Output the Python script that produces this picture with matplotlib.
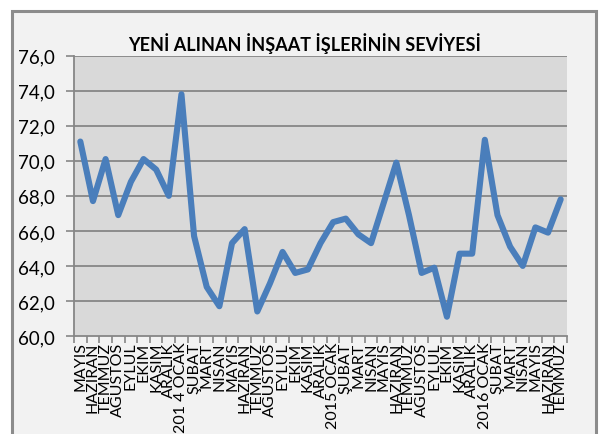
import numpy as np
import matplotlib.pyplot as plt
from matplotlib.patches import Rectangle

plt.rcParams['font.family'] = ['Lato', 'DejaVu Sans']

# data
months = ['MAYIS', 'HAZIRAN', 'TEMMUZ', 'AGUSTOS', 'EYLUL', 'EKIM', 'KASIM', 'ARALIK',
          '201 4 OCAK', 'ŞUBAT', 'MART', 'NISAN', 'MAYIS', 'HAZIRAN', 'TEMMUZ', 'AGUSTOS',
          'EYLUL', 'EKIM', 'KASIM', 'ARALIK', '2015 OCAK', 'ŞUBAT', 'MART', 'NISAN',
          'MAYIS', 'HAZIRAN', 'TEMMUZ', 'AGUSTOS', 'EYLUL', 'EKIM', 'KASIM', 'ARALIK',
          '2016 OCAK', 'ŞUBAT', 'MART', 'NISAN', 'MAYIS', 'HAZIRAN', 'TEMMUZ']
level = [71.1, 67.7, 70.1, 66.9, 68.8, 70.1, 69.5, 68.0,
         73.8, 65.7, 62.8, 61.7, 65.3, 66.1, 61.4, 63.0,
         64.8, 63.6, 63.8, 65.3, 66.5, 66.7, 65.8, 65.3,
         67.6, 69.9, 66.9, 63.6, 63.9, 61.1, 64.7, 64.7,
         71.2, 66.9, 65.1, 64.0, 66.2, 65.9, 67.8]
yticks = np.arange(60, 77, 2)

W, H = 599, 435
fig = plt.figure(figsize=(W / 100, H / 100), dpi=100)
fig.patch.set_facecolor('white')

# chart area frame
fig.patches.append(Rectangle((12 / W, -0.05), (596 - 12) / W, 1.05 - 12 / H,
                             transform=fig.transFigure, facecolor='#f2f2f2',
                             edgecolor='#8c8c8c', linewidth=2.2, zorder=-10))

ax = fig.add_axes([74 / W, 1 - 337 / H, (567 - 74) / W, (337 - 56.7) / H])
ax.set_facecolor('#d9d9d9')

x = np.arange(len(months))
ax.plot(x, level, color='#4a7ebb', linewidth=4.4, solid_capstyle='round',
        solid_joinstyle='round', zorder=3)

ax.set_xlim(-0.5, len(months) - 0.5)
ax.set_ylim(60, 76)
ax.set_yticks(yticks)
ax.set_yticklabels([('%.1f' % v).replace('.', ',') for v in yticks], fontsize=13.5)
ax.yaxis.set_tick_params(length=6, width=1.2, color='#868686', pad=8)
for v in yticks[1:]:
    ax.axhline(v, color='#868686', linewidth=1.3, zorder=1)

ax.set_xticks(x)
ax.set_xticklabels(months, rotation=90, fontsize=11.5)
ax.xaxis.set_tick_params(length=0, pad=4)
ax.set_xticks(np.arange(-0.5, len(months)), minor=True)
ax.xaxis.set_tick_params(which='minor', length=5, width=1.2, color='#868686')

for s in ['top', 'right']:
    ax.spines[s].set_visible(False)
ax.spines['left'].set_color('#868686')
ax.spines['bottom'].set_color('#868686')
ax.spines['left'].set_linewidth(1.3)
ax.spines['bottom'].set_linewidth(1.3)

fig.text(305 / W, 1 - 44 / H, 'YENİ ALINAN İNŞAAT İŞLERİNİN SEVİYESİ', ha='center',
         va='center', fontsize=13, fontweight='bold')

fig.savefig('out.png', dpi=100, facecolor=fig.get_facecolor())
